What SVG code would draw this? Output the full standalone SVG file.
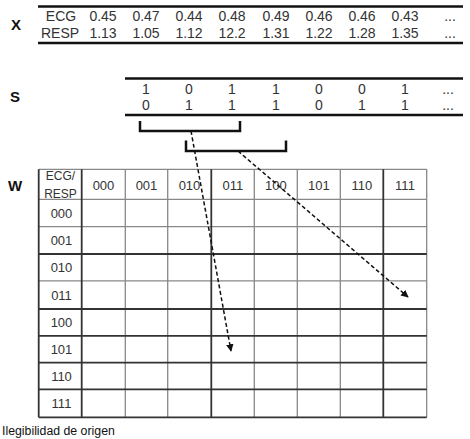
<svg xmlns="http://www.w3.org/2000/svg" width="470" height="439" viewBox="0 0 470 439">
<style>
text{font-family:"Liberation Sans",Arial,sans-serif;fill:#333}
.lbl{font-size:15px;font-weight:bold;fill:#111}
.v{font-size:14px;text-anchor:middle}
.h{font-size:13px;text-anchor:middle}
.r{font-size:12px;text-anchor:middle}
.rule{stroke:#111;stroke-width:2.5;fill:none}
.br{stroke:#111;stroke-width:2.5;fill:none}
.thin{stroke:#888;stroke-width:1.3}
.thick{stroke:#333;stroke-width:1.8}
.arr{stroke:#111;stroke-width:1.5;stroke-dasharray:4 2.5;fill:none;marker-end:url(#ah)}
</style>
<defs>
<marker id="ah" viewBox="0 0 10 10" refX="9" refY="5" markerWidth="5" markerHeight="5" orient="auto" markerUnits="strokeWidth">
<path d="M0,0 L10,5 L0,10 z" fill="#111"/>
</marker>
</defs>
<rect width="470" height="439" fill="#fff"/>

<g id="X">
<text class="lbl" x="16" y="30" text-anchor="middle">X</text>
<line class="rule" x1="38" y1="6.5" x2="463" y2="6.5"/>
<line class="rule" x1="38" y1="43" x2="463" y2="43"/>
<text class="v" x="61" y="21">ECG</text>
<text class="v" x="103" y="21">0.45</text>
<text class="v" x="146" y="21">0.47</text>
<text class="v" x="189" y="21">0.44</text>
<text class="v" x="232" y="21">0.48</text>
<text class="v" x="276" y="21">0.49</text>
<text class="v" x="319" y="21">0.46</text>
<text class="v" x="362" y="21">0.46</text>
<text class="v" x="405" y="21">0.43</text>
<text class="v" x="450" y="21">...</text>
<text class="v" x="60" y="38">RESP</text>
<text class="v" x="103" y="38">1.13</text>
<text class="v" x="146" y="38">1.05</text>
<text class="v" x="189" y="38">1.12</text>
<text class="v" x="232" y="38">12.2</text>
<text class="v" x="276" y="38">1.31</text>
<text class="v" x="319" y="38">1.22</text>
<text class="v" x="362" y="38">1.28</text>
<text class="v" x="405" y="38">1.35</text>
<text class="v" x="450" y="38">...</text>
</g>

<g id="S">
<text class="lbl" x="15" y="102" text-anchor="middle">S</text>
<line class="rule" x1="125" y1="78.5" x2="463" y2="78.5"/>
<line class="rule" x1="125" y1="115" x2="463" y2="115"/>
<text class="v" x="146" y="93.5">1</text>
<text class="v" x="189" y="93.5">0</text>
<text class="v" x="232" y="93.5">1</text>
<text class="v" x="276" y="93.5">1</text>
<text class="v" x="319" y="93.5">0</text>
<text class="v" x="362" y="93.5">0</text>
<text class="v" x="405" y="93.5">1</text>
<text class="v" x="448" y="93.5">...</text>
<text class="v" x="146" y="109.5">0</text>
<text class="v" x="189" y="109.5">1</text>
<text class="v" x="232" y="109.5">1</text>
<text class="v" x="276" y="109.5">1</text>
<text class="v" x="319" y="109.5">0</text>
<text class="v" x="362" y="109.5">1</text>
<text class="v" x="405" y="109.5">1</text>
<text class="v" x="448" y="109.5">...</text>
</g>

<g id="brackets">
<path class="br" d="M140,121 V131 H240 V121"/>
<path class="br" d="M186,140.5 V151 H286 V140.5"/>
</g>

<g id="W">
<text class="lbl" x="15" y="190.5" text-anchor="middle">W</text>
<g id="grid-thin">
<line class="thin" x1="38.7" y1="169.3" x2="426.7" y2="169.3"/>
<line class="thin" x1="38.7" y1="199.3" x2="426.7" y2="199.3"/>
<line class="thin" x1="38.7" y1="226.7" x2="426.7" y2="226.7"/>
<line class="thin" x1="38.7" y1="280.8" x2="426.7" y2="280.8"/>
<line class="thin" x1="125.3" y1="169.3" x2="125.3" y2="417.3"/>
<line class="thin" x1="167.7" y1="169.3" x2="167.7" y2="417.3"/>
<line class="thin" x1="254.3" y1="169.3" x2="254.3" y2="417.3"/>
<line class="thin" x1="297.3" y1="169.3" x2="297.3" y2="417.3"/>
<line class="thin" x1="340.3" y1="169.3" x2="340.3" y2="417.3"/>
<line class="thin" x1="426.7" y1="169.3" x2="426.7" y2="417.3"/>
</g>
<g id="grid-thick">
<line class="thick" x1="38.7" y1="254" x2="426.7" y2="254"/>
<line class="thick" x1="38.7" y1="309" x2="426.7" y2="309"/>
<line class="thick" x1="38.7" y1="335.8" x2="426.7" y2="335.8"/>
<line class="thick" x1="38.7" y1="362.7" x2="426.7" y2="362.7"/>
<line class="thick" x1="38.7" y1="389.3" x2="426.7" y2="389.3"/>
<line class="thick" x1="38.7" y1="417.3" x2="426.7" y2="417.3"/>
<line class="thick" x1="38.7" y1="169.3" x2="38.7" y2="417.3"/>
<line class="thick" x1="81.7" y1="169.3" x2="81.7" y2="417.3"/>
<line class="thick" x1="211.3" y1="169.3" x2="211.3" y2="417.3"/>
<line class="thick" x1="383.3" y1="169.3" x2="383.3" y2="417.3"/>
</g>
<text class="r" x="60.5" y="180">ECG/</text>
<text class="r" x="60.5" y="197.5">RESP</text>
<text class="h" x="103.5" y="189.5">000</text>
<text class="h" x="146.5" y="189.5">001</text>
<text class="h" x="189.5" y="189.5">010</text>
<text class="h" x="232.8" y="189.5">011</text>
<text class="h" x="275.8" y="189.5">100</text>
<text class="h" x="318.8" y="189.5">101</text>
<text class="h" x="361.8" y="189.5">110</text>
<text class="h" x="405" y="189.5">111</text>
<text class="h" x="61.5" y="217.7">000</text>
<text class="h" x="61.5" y="245">001</text>
<text class="h" x="61.5" y="272">010</text>
<text class="h" x="61.5" y="299.5">011</text>
<text class="h" x="61.5" y="327">100</text>
<text class="h" x="61.5" y="353.8">101</text>
<text class="h" x="61.5" y="380.5">110</text>
<text class="h" x="61.5" y="408">111</text>
</g>

<g id="connectors">
<line class="arr" x1="191" y1="131" x2="231" y2="351"/>
<line class="arr" x1="238" y1="151" x2="408" y2="297"/>
</g>

<text x="2" y="435" style="font-size:12.3px;fill:#111">Ilegibilidad de origen</text>
</svg>
